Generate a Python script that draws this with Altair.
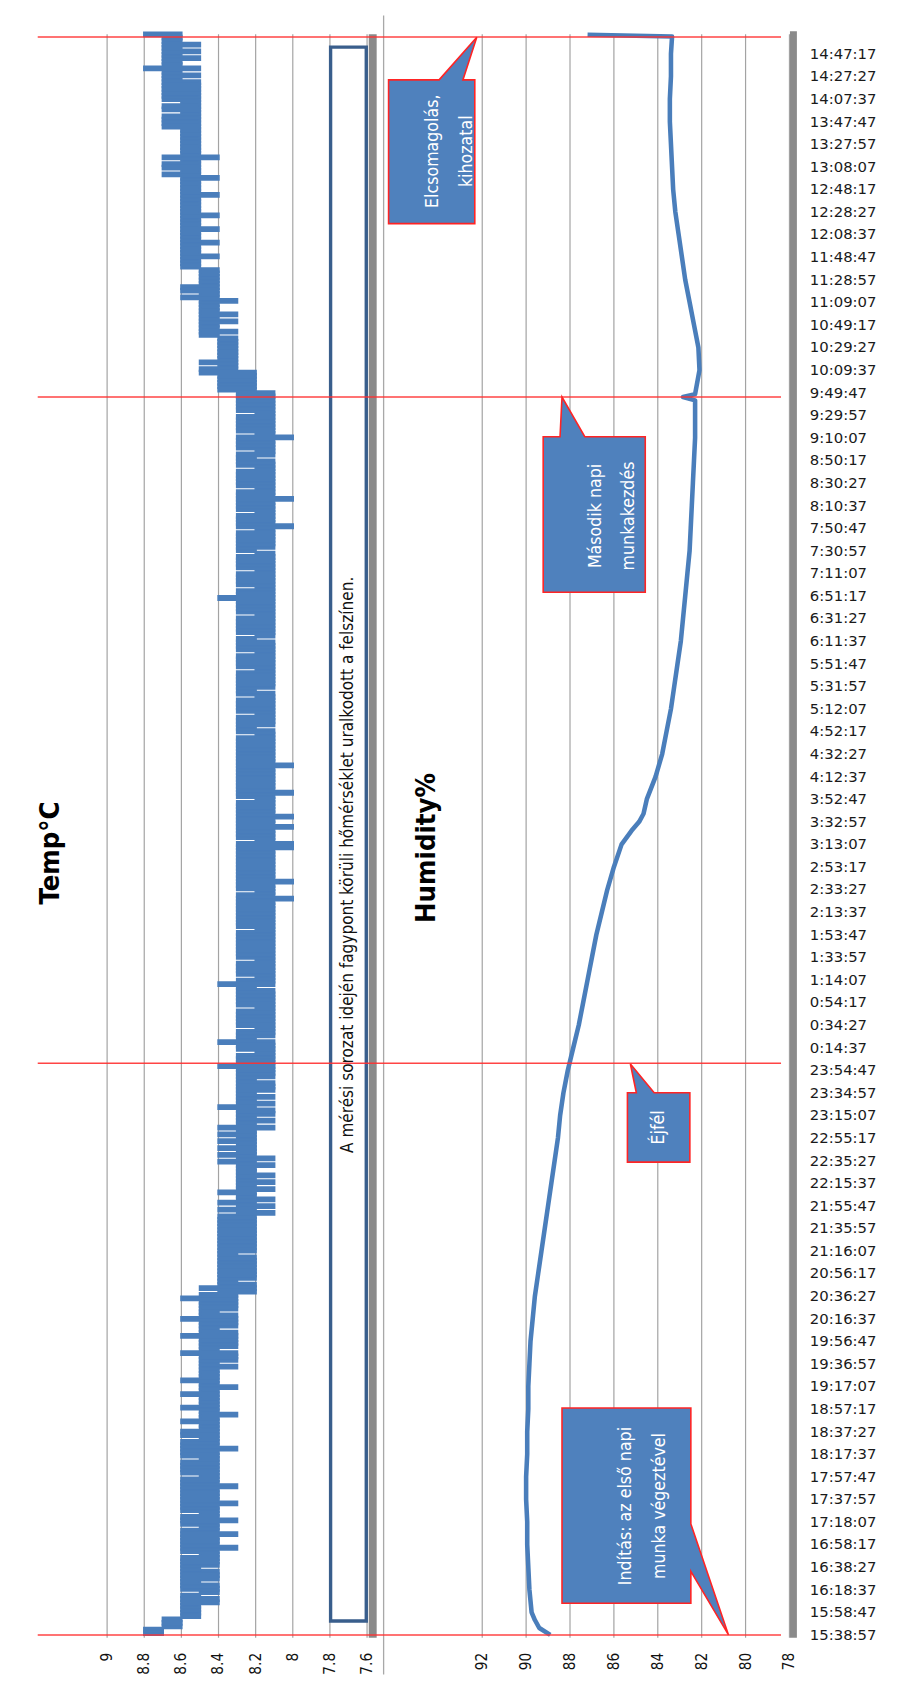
import altair as alt
import pandas as pd

# ------------------------------------------------------------------ data
START = "15:38:57"          # first sample / bottom of the time axis
T_TOP = 84330               # seconds after START at the top of the plot

time_labels = [
    "15:38:57", "15:58:47", "16:18:37", "16:38:27", "16:58:17", "17:18:07", "17:37:57",
    "17:57:47", "18:17:37", "18:37:27", "18:57:17", "19:17:07", "19:36:57", "19:56:47",
    "20:16:37", "20:36:27", "20:56:17", "21:16:07", "21:35:57", "21:55:47", "22:15:37",
    "22:35:27", "22:55:17", "23:15:07", "23:34:57", "23:54:47", "0:14:37", "0:34:27",
    "0:54:17", "1:14:07", "1:33:57", "1:53:47", "2:13:37", "2:33:27", "2:53:17",
    "3:13:07", "3:32:57", "3:52:47", "4:12:37", "4:32:27", "4:52:17", "5:12:07",
    "5:31:57", "5:51:47", "6:11:37", "6:31:27", "6:51:17", "7:11:07", "7:30:57",
    "7:50:47", "8:10:37", "8:30:27", "8:50:17", "9:10:07", "9:29:57", "9:49:47",
    "10:09:37", "10:29:27", "10:49:17", "11:09:07", "11:28:57", "11:48:47", "12:08:37",
    "12:28:27", "12:48:17", "13:08:07", "13:27:57", "13:47:47", "14:07:37", "14:27:27",
    "14:47:17",
]

temp_ticks = [9.0, 8.8, 8.6, 8.4, 8.2, 8.0, 7.8, 7.6]
temp_tick_labels = ["9", "8.8", "8.6", "8.4", "8.2", "8", "7.8", "7.6"]
hum_ticks = [92, 90, 88, 86, 84, 82, 80, 78]
hum_tick_labels = ["92", "90", "88", "86", "84", "82", "80", "78"]

# temperature: lowest and highest reading in each 3-minute slot,
# one string per hour, each digit d means 8.d °C
temp_slot_seconds = 180
temp_low_by_hour = [
    "77666555544544454445",  # 15:39
    "44444344434443444434",  # 16:39
    "44434444444444344444",  # 17:39
    "44443444444434444434",  # 18:39
    "33343333343333433333",  # 19:39
    "22232222222322222222",  # 20:39
    "22212121221212122121",  # 21:39
    "22222222121211212121",  # 22:39
    "11211111111111211111",  # 23:39
    "11111111121111111111",  # 0:39
    "11111111111111101111",  # 1:39
    "01111111110011110110",  # 2:39
    "11111101111111011111",  # 3:39
    "11111211111111112111",  # 4:39
    "11111111111211111111",  # 5:39
    "11111111111111111211",  # 6:39
    "11110111111101111111",  # 7:39
    "11112111110111111111",  # 8:39
    "11112222223333333333",  # 9:39
    "43443434443444444444",  # 10:39
    "55545554555455545555",  # 11:39
    "54555545555545555555",  # 12:39
    "55555555555555565656",  # 13:39
    "656565666",             # 14:39
]
temp_high_by_hour = [
    "88777666666656666666",  # 15:39
    "66656666666566656666",  # 16:39
    "66666656666566666566",  # 17:39
    "55655565556555655555",  # 18:39
    "55655556555565555565",  # 19:39
    "45444444444444444444",  # 20:39
    "44434343343333333343",  # 21:39
    "43434343433333433333",  # 22:39
    "33333343332334333233",  # 23:39
    "33323333334323333233",  # 0:39
    "33333323333333333233",  # 1:39
    "33333333333323333333",  # 2:39
    "33332333333333333333",  # 3:39
    "33323333323333233333",  # 4:39
    "33233332333323333323",  # 5:39
    "33343323333233332333",  # 6:39
    "33323333233333323333",  # 7:39
    "32333323333233333233",  # 8:39
    "33334444455454444444",  # 9:39
    "55555555555656655555",  # 10:39
    "66666666666666666666",  # 11:39
    "66666667677676666666",  # 12:39
    "67777677677777777787",  # 13:39
    "777777778",             # 14:39
]

hum_times = [
    "15:38:57", "15:45:00", "15:52:00", "15:58:47", "16:18:37", "16:38:27", "16:58:17",
    "17:18:07", "17:37:57", "17:57:47", "18:17:37", "18:37:27", "18:57:17", "19:17:07",
    "19:36:57", "19:56:47", "20:16:37", "20:36:27", "20:56:17", "21:16:07", "21:35:57",
    "21:55:47", "22:15:37", "22:35:27", "22:55:17", "23:15:07", "23:34:57", "23:54:47",
    "0:14:37", "0:34:27", "0:54:17", "1:14:07", "1:33:57", "1:53:47", "2:13:37",
    "2:33:27", "2:53:17", "3:13:07", "3:25:00", "3:32:57", "3:40:00", "3:52:47",
    "4:12:37", "4:32:27", "4:52:17", "5:12:07", "5:31:57", "5:51:47", "6:11:37",
    "6:31:27", "6:51:17", "7:11:07", "7:30:57", "7:50:47", "8:10:37", "8:30:27",
    "8:50:17", "9:10:07", "9:29:57", "9:43:00", "9:46:00", "9:48:30", "10:09:37",
    "10:29:27", "10:49:17", "11:09:07", "11:28:57", "11:48:47", "12:08:37", "12:28:27",
    "12:48:17", "13:08:07", "13:27:57", "13:47:47", "14:07:37", "14:27:27", "14:47:17",
    "15:02:30", "15:04:00",
]
hum_values = [
    88.9, 89.4, 89.6, 89.75, 89.85, 89.9, 89.95,
    89.95, 90.0, 90.0, 89.95, 89.95, 89.9, 89.9,
    89.85, 89.8, 89.7, 89.6, 89.45, 89.3, 89.15,
    89.0, 88.85, 88.7, 88.55, 88.45, 88.3, 88.1,
    87.85, 87.6, 87.4, 87.2, 87.0, 86.8, 86.55,
    86.3, 86.0, 85.65, 85.2, 84.85, 84.65, 84.5,
    84.1, 83.8, 83.6, 83.4, 83.25, 83.1, 82.95,
    82.85, 82.75, 82.65, 82.55, 82.5, 82.45, 82.4,
    82.35, 82.3, 82.3, 82.3, 82.85, 82.3, 82.1,
    82.15, 82.35, 82.55, 82.75, 82.9, 83.05, 83.2,
    83.3, 83.35, 83.4, 83.45, 83.45, 83.4, 83.4,
    83.35, 87.2,
]

marker_times = ["15:38:57", "0:01:00", "9:46:00", "15:02:00"]

callout_texts = [
    "Elcsomagolás,\nkihozatal",
    "Második napi\nmunkakezdés",
    "Éjfél",
    "Indítás: az első napi\nmunka végeztével",
]
box_text = "A mérési sorozat idején fagypont körüli hőmérséklet uralkodott a felszínen."
temp_title = "Temp°C"
hum_title = "Humidity%"


def secs(hms):
    h, m, s = (int(p) for p in hms.split(":"))
    h0, m0, s0 = (int(p) for p in START.split(":"))
    return (h * 3600 + m * 60 + s - (h0 * 3600 + m0 * 60 + s0)) % 86400


lows = "".join(temp_low_by_hour)
highs = "".join(temp_high_by_hour)
temp_df = pd.DataFrame({
    "t": [i * temp_slot_seconds for i in range(len(lows))],
    "t2": [(i + 1) * temp_slot_seconds for i in range(len(lows))],
    "lo": [8 + int(c) / 10 for c in lows],
    "hi": [8 + int(c) / 10 for c in highs],
})
hum_df = pd.DataFrame({"t": [secs(x) for x in hum_times], "v": hum_values})
marker_df = pd.DataFrame({"t": [secs(x) for x in marker_times]})
tlab_df = pd.DataFrame({"t": [secs(x) for x in time_labels], "lab": time_labels})
ttick_df = pd.DataFrame({"v": temp_ticks, "lab": temp_tick_labels})
htick_df = pd.DataFrame({"v": hum_ticks, "lab": hum_tick_labels})

# ------------------------------------------------------------------ layout (chart pixels)
W, H = 896, 1674
M = 8  # page margin, reference coordinates are page coordinates


def px(v):
    return v - M


PLOT_TOP, PLOT_BOT = px(27), px(1642)
GRID_BOT = px(1645)

Y = alt.Scale(domain=[0, T_TOP], range=[PLOT_BOT, PLOT_TOP], nice=False, zero=False)
XT = alt.Scale(domain=[7.6, 9.0], range=[px(370.3), px(108)], nice=False, zero=False)
XH = alt.Scale(domain=[78, 92], range=[px(796.5), px(486.5)], nice=False, zero=False)

BLUE = "#4a7ebb"
RED = "#ff3030"
NARROW = "DejaVu Sans Condensed, Liberation Sans Narrow, Arial Narrow, sans-serif"
WIDE = "DejaVu Sans, Verdana, sans-serif"

layers = []

# gridlines
for df, sc in ((ttick_df, XT), (htick_df, XH)):
    layers.append(
        alt.Chart(df).mark_rule(color="#a3a3a3", strokeWidth=1.2).encode(
            x=alt.X("v:Q", scale=sc, axis=None),
            y=alt.value(PLOT_TOP), y2=alt.value(GRID_BOT),
        )
    )

# thick grey category-axis bars and separator
bars = pd.DataFrame({"x": [px(372), px(797)], "x2": [px(380), px(804)],
                     "y": [PLOT_TOP, PLOT_TOP - 3], "y2": [GRID_BOT, GRID_BOT]})
layers.append(
    alt.Chart(bars).mark_rect(color="#8a8a8a").encode(
        x=alt.X("x:Q", scale=None), x2="x2:Q",
        y=alt.Y("y:Q", scale=None), y2="y2:Q",
    )
)
sep = pd.DataFrame({"x": [px(387)], "y": [0], "y2": [H]})
layers.append(
    alt.Chart(sep).mark_rule(color="#a8a8a8", strokeWidth=1.3).encode(
        x=alt.X("x:Q", scale=None), y=alt.Y("y:Q", scale=None), y2="y2:Q",
    )
)

# framed note on the temperature panel
note = pd.DataFrame({"x": [px(333.5)], "x2": [px(369.5)], "y": [px(40)], "y2": [px(1628)]})
layers.append(
    alt.Chart(note).mark_rect(fill="white", stroke="#395e8c", strokeWidth=3.4).encode(
        x=alt.X("x:Q", scale=None), x2="x2:Q",
        y=alt.Y("y:Q", scale=None), y2="y2:Q",
    )
)
note_txt = pd.DataFrame({"x": [px(351)], "y": [px(865)], "txt": [box_text]})
layers.append(
    alt.Chart(note_txt).mark_text(angle=270, font=NARROW, fontSize=17.2, color="#111111",
                                  align="center", baseline="middle").encode(
        x=alt.X("x:Q", scale=None), y=alt.Y("y:Q", scale=None), text="txt:N",
    )
)

# temperature: the jittering trace drawn slot by slot (low..high reading)
layers.append(
    alt.Chart(temp_df).mark_rect(color=BLUE, stroke=BLUE, strokeWidth=2.4).encode(
        x=alt.X("lo:Q", scale=XT, axis=None), x2="hi:Q",
        y=alt.Y("t:Q", scale=Y, axis=None), y2="t2:Q",
    )
)
# humidity trace
layers.append(
    alt.Chart(hum_df).mark_line(color=BLUE, strokeWidth=4.6, strokeJoin="round").encode(
        x=alt.X("v:Q", scale=XH, axis=None),
        y=alt.Y("t:Q", scale=Y, axis=None),
        order="t:Q",
    )
)

# red event markers
layers.append(
    alt.Chart(marker_df).mark_rule(color=RED, strokeWidth=1.5, opacity=0.9).encode(
        y=alt.Y("t:Q", scale=Y, axis=None),
        x=alt.value(px(38)), x2=alt.value(px(788)),
    )
)

# callouts (box + pointer), outlines in page pixels
callout_shapes = [
    [(392, 73), (443, 73), (481, 30), (467, 73), (479, 73), (479, 218), (392, 218)],
    [(548, 433), (565, 433), (567, 393), (590, 433), (651, 433), (651, 590), (548, 590)],
    [(633, 1095), (642, 1095), (636, 1066), (660, 1095), (696, 1095), (696, 1165), (633, 1165)],
    [(567, 1413), (697, 1413), (697, 1530), (735, 1642), (697, 1578), (697, 1610), (567, 1610)],
]
callout_centres = [(437, 145), (601, 513), (665, 1130), (632, 1512)]

for pts in callout_shapes:
    path = "M" + " L".join(f"{px(x)},{px(y)}" for x, y in pts) + " Z"
    layers.append(
        alt.Chart(pd.DataFrame({"x": [0], "y": [0]})).mark_point(
            shape=path, size=4, filled=True, fill="#4f81bd", stroke="#ff2424",
            strokeWidth=1.6, opacity=1,
        ).encode(x=alt.X("x:Q", scale=None), y=alt.Y("y:Q", scale=None))
    )

ctext = pd.DataFrame({
    "x": [px(c[0]) for c in callout_centres],
    "y": [px(c[1]) for c in callout_centres],
    "txt": callout_texts,
})
layers.append(
    alt.Chart(ctext).mark_text(angle=270, font=NARROW, fontSize=17.8, color="white",
                               align="center", baseline="middle", lineBreak="\n",
                               lineHeight=34).encode(
        x=alt.X("x:Q", scale=None), y=alt.Y("y:Q", scale=None), text="txt:N",
    )
)

# panel titles
titles = pd.DataFrame({"x": [px(51), px(431)], "y": [px(853), px(848)],
                       "txt": [temp_title, hum_title]})
layers.append(
    alt.Chart(titles).mark_text(angle=270, font=NARROW, fontSize=27.5, fontWeight="bold",
                                color="black", align="center", baseline="middle").encode(
        x=alt.X("x:Q", scale=None), y=alt.Y("y:Q", scale=None), text="txt:N",
    )
)

# value-axis tick labels (rotated)
for df, sc in ((ttick_df, XT), (htick_df, XH)):
    layers.append(
        alt.Chart(df).mark_text(angle=270, font=NARROW, fontSize=15.5, color="#111111",
                                align="right", baseline="middle").encode(
            x=alt.X("v:Q", scale=sc, axis=None),
            y=alt.value(px(1660)),
            text="lab:N",
        )
    )

# time-axis labels
layers.append(
    alt.Chart(tlab_df).mark_text(font=WIDE, fontSize=15, color="#1a1a1a",
                                 align="left", baseline="middle").encode(
        y=alt.Y("t:Q", scale=Y, axis=None),
        x=alt.value(px(817)),
        text="lab:N",
    )
)

chart = (
    alt.layer(*layers)
    .resolve_scale(x="independent", y="independent")
    .properties(width=W, height=H, autosize=alt.AutoSizeParams(type="none"), padding=0,
                background="white")
    .configure_view(stroke=None)
)

chart.save("out.html", embed_options={"renderer": "svg", "actions": False})
